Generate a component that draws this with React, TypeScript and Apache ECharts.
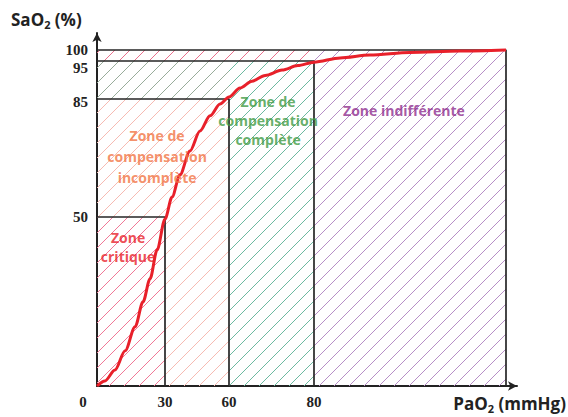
import React, { useEffect, useRef } from "react";
import * as echarts from "echarts";

// ---- Data ----
const PAO2_TICKS = [0, 30, 60, 80];
const SAO2_TICKS = [50, 85, 95, 100];
const PAO2_MAX = 150;

// Oxygen dissociation curve
const CURVE_PAO2 = [0, 3.5, 7.9, 12.4, 16.8, 20.3, 23.4, 26.5, 30, 33.3, 37, 41.7, 46.4, 51.1, 55.8, 60, 62.6, 65.4, 68.5, 72.5, 76.2, 80, 89.5, 100.4, 115, 133.2, 150];
const CURVE_SAO2 = [0, 1.5, 4.7, 10.4, 17.5, 24.9, 31.7, 40.2, 49.4, 55.9, 62.5, 69.6, 75.5, 80, 83.5, 85.5, 87.9, 89.7, 91.2, 92.6, 93.8, 94.7, 96.4, 97.7, 98.9, 99.5, 100];

// Zone boundaries (PaO2, SaO2)
const ZONE_CRITIQUE = [30, 50];
const ZONE_INCOMPLETE = [60, 85];
const ZONE_COMPLETE = [80, 95];
const ZONE_MAX = [PAO2_MAX, 100];

// Hatched rectangles: [x0, y0, x1, y1] and hatch colour
const HATCH_X0 = [0, 30, 0, 60, 0, 0, 80];
const HATCH_Y0 = [0, 0, 50, 0, 85, 95, 0];
const HATCH_X1 = [30, 60, 30, 80, 60, 80, 150];
const HATCH_Y1 = [50, 85, 85, 95, 95, 100, 100];
const HATCH_COLORS = ["#f07896", "#f6bab2", "#f6bab2", "#6cb8a0", "#98ab9a", "#e8708c", "#b68ec6"];

// Zone labels
const LABEL_TEXT = ["Zone\ncritique", "Zone de\ncompensation\nincomplète", "Zone de\ncompensation\ncomplète", "Zone indifférente"];
const LABEL_PAO2 = [13.7, 26.5, 69.2, 112.8];
const LABEL_SAO2 = [41.1, 67.8, 78.5, 81.5];
const LABEL_COLORS = ["#e8202a", "#f27444", "#3e9a44", "#8e2c8e"];
const LABEL_LINEHEIGHT = [19, 21, 19, 19];

// ---- Layout: schematic (non-linear) axes ----
const WARP_PAO2 = [0, 30, 60, 80, 150, 160];
const WARP_U = [0, 68, 132, 217, 409, 420];
const WARP_SAO2 = [0, 50, 85, 95, 100, 105];
const WARP_V = [0, 169, 287, 325, 336, 353];
function piecewise(p: number, src: number[], dst: number[]): number {
  for (let i = 1; i < src.length; i++) {
    if (p <= src[i] || i === src.length - 1) {
      const a = src[i - 1], b = src[i];
      return dst[i - 1] + ((p - a) / (b - a)) * (dst[i] - dst[i - 1]);
    }
  }
  return 0;
}
const wx = (p: number) => piecewise(p, WARP_PAO2, WARP_U);
const wy = (s: number) => piecewise(s, WARP_SAO2, WARP_V);

const hatchCache: Record<string, any> = {};
function hatch(color: string) {
  if (hatchCache[color]) return hatchCache[color];
  const s = 15;
  const c = document.createElement("canvas");
  c.width = s;
  c.height = s;
  const ctx = c.getContext("2d")!;
  ctx.strokeStyle = color;
  ctx.lineWidth = 1;
  ctx.beginPath();
  ctx.moveTo(-2, s + 2);
  ctx.lineTo(s + 2, -2);
  ctx.moveTo(-2, 2);
  ctx.lineTo(2, -2);
  ctx.moveTo(s - 2, s + 2);
  ctx.lineTo(s + 2, s - 2);
  ctx.stroke();
  const pat = { image: c.toDataURL(), repeat: "repeat", imageWidth: s, imageHeight: s };
  hatchCache[color] = pat;
  return pat;
}

function boxSeries(corner: number[]) {
  return {
    type: "line",
    data: [
      [wx(0), wy(corner[1])],
      [wx(corner[0]), wy(corner[1])],
      [wx(corner[0]), wy(0)],
    ],
    symbol: "none",
    lineStyle: { color: "#262626", width: 1.7 },
    z: 3,
    silent: true,
  };
}

export default function App() {
  const ref = useRef<HTMLDivElement>(null);
  useEffect(() => {
    if (!ref.current) return;
    const chart = echarts.init(ref.current, undefined, { renderer: "svg" });
    const numFont = "'Liberation Serif', serif";
    const sansFont = "'Open Sans', Lato, sans-serif";
    const numStyle = { fontFamily: numFont, fontWeight: "bold", fontSize: 15, color: "#222" };
    chart.setOption({
      animation: false,
      grid: { left: 97, top: 33, width: 420, height: 353 },
      xAxis: {
        type: "value",
        min: 0,
        max: 420,
        splitLine: { show: false },
        axisTick: { show: false },
        axisLine: {
          show: true,
          symbol: ["none", "arrow"],
          symbolSize: [7, 9],
          lineStyle: { color: "#222", width: 2 },
        },
        axisLabel: {
          customValues: PAO2_TICKS.map(wx),
          margin: 8,
          ...numStyle,
          formatter: (v: number) => {
            const i = PAO2_TICKS.findIndex((t) => Math.abs(wx(t) - v) < 0.01);
            const t = i >= 0 ? String(PAO2_TICKS[i]) : "";
            return i === 0 ? "{z|" + t + "}" : t;
          },
          rich: { z: { ...numStyle, padding: [0, 28, 0, 0] } },
        },
      },
      yAxis: {
        type: "value",
        min: 0,
        max: 353,
        splitLine: { show: false },
        axisTick: { show: false },
        axisLine: {
          show: true,
          symbol: ["none", "arrow"],
          symbolSize: [7, 9],
          lineStyle: { color: "#222", width: 2 },
        },
        axisLabel: {
          customValues: SAO2_TICKS.map(wy),
          margin: 9,
          ...numStyle,
          formatter: (v: number) => {
            const i = SAO2_TICKS.findIndex((t) => Math.abs(wy(t) - v) < 0.01);
            if (i < 0) return "";
            const t = String(SAO2_TICKS[i]);
            if (SAO2_TICKS[i] === 95) return "{d|" + t + "}";
            if (SAO2_TICKS[i] === 85) return "{e|" + t + "}";
            return t;
          },
          rich: {
            d: { ...numStyle, padding: [14, 0, 0, 0] },
            e: { ...numStyle, padding: [5, 0, 0, 0] },
          },
        },
      },
      graphic: [
        {
          type: "text",
          left: 11,
          top: 11,
          style: {
            text: "SaO{s|2} (%)",
            font: "bold 17px " + sansFont,
            fill: "#222",
            rich: {
              s: { fontSize: 11, fontWeight: "bold", fontFamily: sansFont, fill: "#222", padding: [9, 0, 0, 0] },
            },
          },
        },
        {
          type: "text",
          right: 2,
          top: 395,
          style: {
            text: "PaO{s|2} (mmHg)",
            font: "bold 17px " + sansFont,
            fill: "#222",
            rich: {
              s: { fontSize: 11, fontWeight: "bold", fontFamily: sansFont, fill: "#222", padding: [9, 0, 0, 0] },
            },
          },
        },
      ],
      series: [
        {
          type: "custom",
          silent: true,
          z: 1,
          data: HATCH_X0.map((x0, i) => [wx(x0), wy(HATCH_Y0[i]), wx(HATCH_X1[i]), wy(HATCH_Y1[i])]),
          encode: { x: [0, 2], y: [1, 3] },
          renderItem: (params: any, api: any) => {
            const p0 = api.coord([api.value(0), api.value(1)]);
            const p1 = api.coord([api.value(2), api.value(3)]);
            return {
              type: "rect",
              shape: { x: p0[0], y: p1[1], width: p1[0] - p0[0], height: p0[1] - p1[1] },
              style: { fill: hatch(HATCH_COLORS[params.dataIndex]) },
            };
          },
        },
        boxSeries(ZONE_CRITIQUE),
        boxSeries(ZONE_INCOMPLETE),
        boxSeries(ZONE_COMPLETE),
        boxSeries(ZONE_MAX),
        {
          type: "line",
          data: CURVE_PAO2.map((p, i) => [wx(p), wy(CURVE_SAO2[i])]),
          smooth: 0.3,
          smoothMonotone: "x",
          symbol: "none",
          lineStyle: { color: "#e8202a", width: 3 },
          z: 5,
          silent: true,
        },
        {
          type: "scatter",
          symbolSize: 1,
          itemStyle: { color: "rgba(0,0,0,0)" },
          z: 6,
          silent: true,
          data: LABEL_TEXT.map((t, i) => ({
            value: [wx(LABEL_PAO2[i]), wy(LABEL_SAO2[i])],
            label: {
              show: true,
              position: "inside",
              formatter: t,
              color: LABEL_COLORS[i],
              fontFamily: sansFont,
              fontWeight: "bold",
              fontSize: 14,
              lineHeight: LABEL_LINEHEIGHT[i],
              align: "center",
              verticalAlign: "middle",
            },
          })),
        },
      ],
    });
    return () => chart.dispose();
  }, []);
  return <div ref={ref} style={{ width: 568, height: 417, position: "absolute", left: 0, top: 0 }} />;
}
